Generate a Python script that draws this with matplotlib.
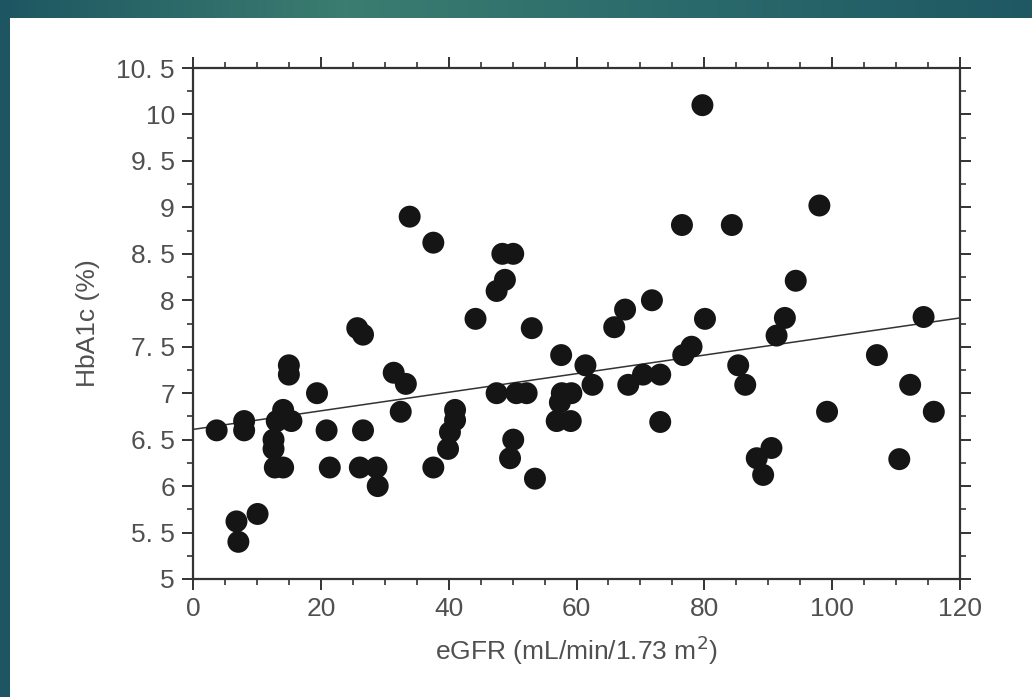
import numpy as np
import matplotlib
matplotlib.use("Agg")
import matplotlib.pyplot as plt
from matplotlib.ticker import MultipleLocator, FuncFormatter
from matplotlib.patches import Rectangle
from matplotlib.colors import LinearSegmentedColormap

plt.rcParams['font.family'] = ['Liberation Sans', 'DejaVu Sans']

# ---- data ----
egfr = [3.7, 8.0, 8.0, 6.8, 7.1, 10.1, 12.6, 12.6, 12.8, 14.1, 13.1, 14.1, 15.4,
        15.0, 15.0, 19.4, 20.9, 21.4, 25.7, 26.6, 26.6, 26.1, 28.7, 28.9, 31.4,
        33.3, 32.5, 33.9, 37.6, 37.6, 39.9, 40.2, 41.0, 41.0, 44.2, 47.5, 48.8,
        48.4, 50.1, 47.5, 50.6, 52.2, 50.1, 49.6, 53.0, 53.5, 57.6, 57.7, 59.2,
        57.4, 56.9, 59.1, 61.4, 62.5, 65.9, 67.6, 71.8, 68.1, 70.4, 73.1, 73.1,
        76.5, 76.7, 78.0, 79.7, 80.1, 84.3, 85.3, 86.4, 88.2, 89.2, 90.5, 91.3,
        92.6, 94.3, 98.0, 99.2, 107.0, 110.5, 112.2, 114.3, 115.9]
hba1c = [6.6, 6.7, 6.6, 5.62, 5.4, 5.7, 6.5, 6.4, 6.2, 6.2, 6.7, 6.82, 6.7,
         7.3, 7.2, 7.0, 6.6, 6.2, 7.7, 7.63, 6.6, 6.2, 6.2, 6.0, 7.22,
         7.1, 6.8, 8.9, 8.62, 6.2, 6.4, 6.58, 6.71, 6.82, 7.8, 8.1, 8.22,
         8.5, 8.5, 7.0, 7.0, 7.0, 6.5, 6.3, 7.7, 6.08, 7.41, 7.0, 7.0,
         6.9, 6.7, 6.7, 7.3, 7.09, 7.71, 7.9, 8.0, 7.09, 7.2, 7.2, 6.69,
         8.81, 7.41, 7.5, 10.1, 7.8, 8.81, 7.3, 7.09, 6.3, 6.12, 6.41, 7.62,
         7.81, 8.21, 9.02, 6.8, 7.41, 6.29, 7.09, 7.82, 6.8]
fit_intercept = 6.61
fit_slope = 0.010
x_ticks = [0, 20, 40, 60, 80, 100, 120]
y_ticks = [5, 5.5, 6, 6.5, 7, 7.5, 8, 8.5, 9, 9.5, 10, 10.5]

W, H = 1032, 697
fig = plt.figure(figsize=(W / 100, H / 100), dpi=100)

# background teal gradient
bg = fig.add_axes([0, 0, 1, 1], zorder=-10)
bg.set_axis_off()
cmap = LinearSegmentedColormap.from_list('teal', ['#1d5662', '#3b7d70', '#2a6a6c', '#1f5863'])
grad = np.linspace(0, 1, 256).reshape(1, -1)
bg.imshow(grad, aspect='auto', cmap=cmap, extent=[0, 1, 0, 1])
bg.add_patch(Rectangle((10 / W, 0), 1, 1 - 18 / H, transform=bg.transAxes,
                       facecolor='white', edgecolor='none'))
bg.set_xlim(0, 1)
bg.set_ylim(0, 1)

left, right, top, bottom = 193 / W, 960 / W, 68 / H, 579 / H
ax = fig.add_axes([left, 1 - bottom, right - left, bottom - top])
ax.set_facecolor('white')

ax.scatter(egfr, hba1c, s=250, color='#151515', edgecolors='none', zorder=3)
xl = np.array([0, 120])
ax.plot(xl, fit_intercept + fit_slope * xl, color='#333333', lw=1.1, zorder=2)

ax.set_xlim(0, 120)
ax.set_ylim(5, 10.5)
ax.set_xticks(x_ticks)
ax.set_yticks(y_ticks)
ax.xaxis.set_minor_locator(MultipleLocator(5))
ax.yaxis.set_minor_locator(MultipleLocator(0.25))

def yfmt(v, pos):
    if abs(v - round(v)) < 1e-9:
        return f"{int(round(v))}"
    return f"{v:.1f}".replace('.', '. ')

ax.yaxis.set_major_formatter(FuncFormatter(yfmt))

for s in ax.spines.values():
    s.set_linewidth(1.6)
    s.set_color('#333333')

ax.tick_params(which='both', direction='out', top=True, right=True,
               labeltop=False, labelright=False, colors='#333333')
ax.tick_params(which='major', length=8, width=1.4, labelsize=19, labelcolor='#505050', pad=5)
ax.tick_params(which='minor', length=4, width=1.2)

ax.set_xlabel('eGFR (mL/min/1.73 m$^{2}$)', fontsize=19, color='#505050', labelpad=9)
ax.set_ylabel('HbA1c (%)', fontsize=19, color='#505050', labelpad=12)

fig.savefig('out.png', dpi=100)
